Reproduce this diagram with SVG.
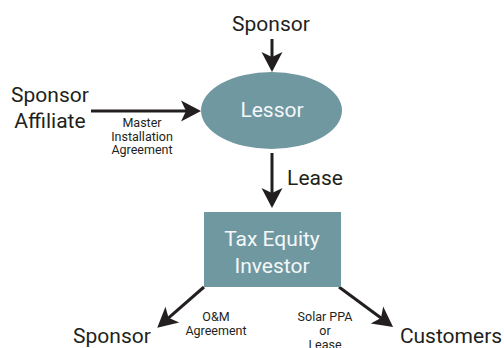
<svg xmlns="http://www.w3.org/2000/svg" width="504" height="348" viewBox="0 0 504 348">
<style>
.lbl{font-family:Roboto,"Liberation Sans",sans-serif;font-size:21px;fill:#231f20;text-anchor:middle}
.sm{font-family:Roboto,"Liberation Sans",sans-serif;font-size:12.5px;fill:#231f20;text-anchor:middle}
.in{font-family:Roboto,"Liberation Sans",sans-serif;font-size:21px;fill:#f4f7f8;text-anchor:middle}
.shape{fill:#7098a1}
.con{stroke:#231f20;stroke-width:3;fill:none;marker-end:url(#ah)}
</style>
<defs>
<marker id="ah" markerUnits="userSpaceOnUse" markerWidth="22" markerHeight="22" refX="8" refY="10.5" orient="auto" overflow="visible">
<path d="M0,0 L20,10.5 L0,21 L5,10.5 Z" fill="#231f20"/>
</marker>
</defs>
<g id="connectors">
<line class="con" x1="272" y1="39" x2="272" y2="60"/>
<line class="con" x1="91" y1="111" x2="189" y2="111"/>
<line class="con" x1="272" y1="153" x2="272" y2="196"/>
<line class="con" x1="204" y1="287" x2="166.3" y2="319.8"/>
<line class="con" x1="339" y1="287" x2="383.4" y2="319.8"/>
</g>
<g id="sponsor-top"><text class="lbl" x="271" y="31">Sponsor</text></g>
<g id="sponsor-affiliate"><text class="lbl" x="50" y="102">Sponsor</text><text class="lbl" x="50" y="128">Affiliate</text></g>
<g id="mia-label"><text class="sm" x="142" y="127">Master</text><text class="sm" x="142" y="141">Installation</text><text class="sm" x="142" y="154">Agreement</text></g>
<g id="lessor"><ellipse class="shape" cx="271.5" cy="110.5" rx="70.5" ry="38.5"/><text class="in" x="272" y="117">Lessor</text></g>
<g id="lease-label"><text class="lbl" x="315" y="185">Lease</text></g>
<g id="tax-equity"><rect class="shape" x="204" y="212" width="137" height="75"/><text class="in" x="272" y="246">Tax Equity</text><text class="in" x="272" y="273">Investor</text></g>
<g id="om-label"><text class="sm" x="216" y="321">O&amp;M</text><text class="sm" x="216" y="335">Agreement</text></g>
<g id="ppa-label"><text class="sm" x="325" y="321">Solar PPA</text><text class="sm" x="325" y="335">or</text><text class="sm" x="325" y="349">Lease</text></g>
<g id="sponsor-bottom"><text class="lbl" x="112" y="343">Sponsor</text></g>
<g id="customers"><text class="lbl" x="451" y="343">Customers</text></g>
</svg>
